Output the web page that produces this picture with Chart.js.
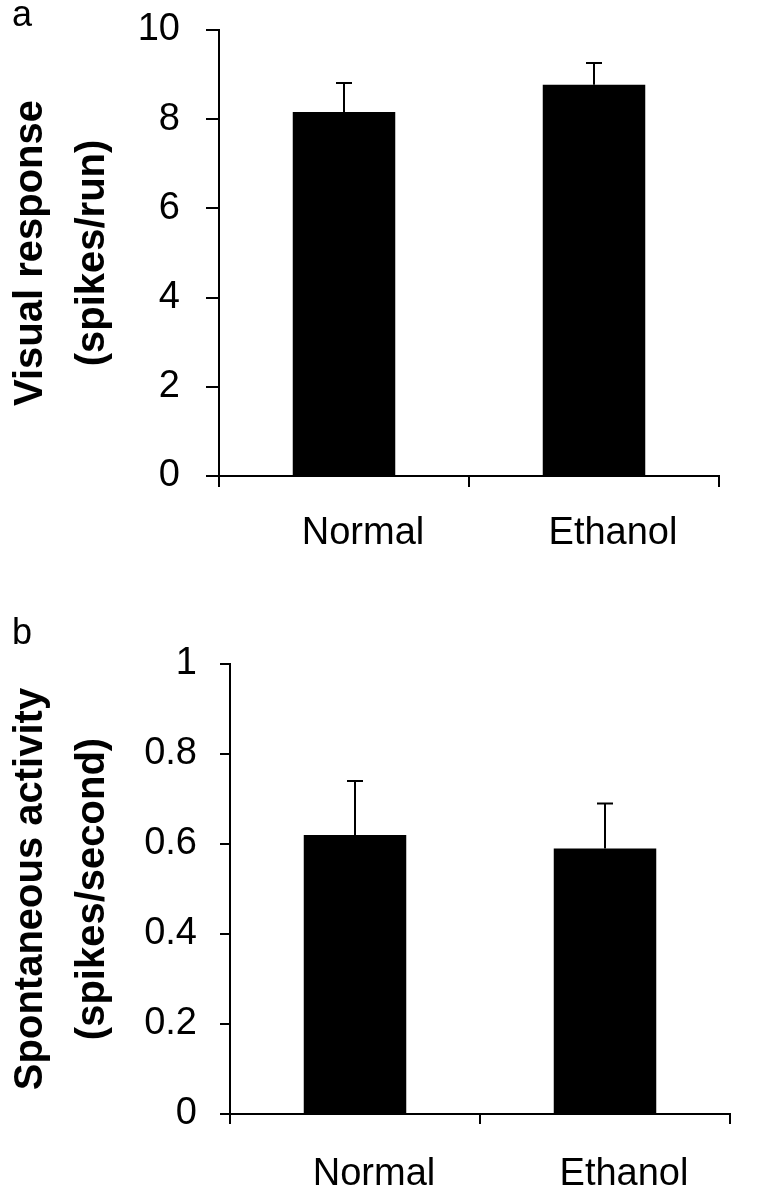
<!DOCTYPE html>
<html>
<head>
<meta charset="utf-8">
<script src="https://cdn.jsdelivr.net/npm/chart.js@4/dist/chart.umd.min.js"></script>
<style>
  body { margin: 0; background: #fff; }
  .panel { position: absolute; left: 0; }
  .letter { position: absolute; left: 12px; font: 36px/1 "Liberation Sans", Arial, sans-serif; color: #000; }
</style>
</head>
<body>
<div class="panel" style="top:0"><canvas id="chartA" width="775" height="590"></canvas></div>
<div class="panel" style="top:590px"><canvas id="chartB" width="775" height="609"></canvas></div>
<div class="letter" style="top:-4px">a</div>
<div class="letter" style="top:614px">b</div>
<script>
// data
const categories = ['Normal', 'Ethanol'];

const visualMean = [8.16, 8.77];
const visualErr = [0.65, 0.49];
const visualTicks = { min: 0, max: 10, step: 2 };

const spontMean = [0.62, 0.59];
const spontErr = [0.12, 0.10];
const spontTicks = { min: 0, max: 1, step: 0.2 };

const FONT = '"Liberation Sans", Arial, sans-serif';

// upward-only error bars with a cap
const errorBars = {
  id: 'errorBars',
  afterDatasetsDraw(chart, args, opts) {
    const ctx = chart.ctx;
    const y = chart.scales.y;
    const vals = chart.data.datasets[0].data;
    ctx.save();
    ctx.strokeStyle = '#000';
    ctx.lineWidth = 2;
    chart.getDatasetMeta(0).data.forEach((bar, i) => {
      const top = y.getPixelForValue(vals[i] + opts.errors[i]);
      ctx.beginPath();
      ctx.moveTo(bar.x, bar.y);
      ctx.lineTo(bar.x, top);
      ctx.moveTo(bar.x - 8, top);
      ctx.lineTo(bar.x + 8, top);
      ctx.stroke();
    });
    ctx.restore();
  }
};

function makeChart(id, o) {
  return new Chart(document.getElementById(id), {
    type: 'bar',
    data: {
      labels: categories,
      datasets: [{
        data: o.values,
        backgroundColor: '#000',
        borderWidth: 0,
        categoryPercentage: 1,
        barPercentage: 0.41
      }]
    },
    plugins: [errorBars],
    options: {
      responsive: false,
      animation: false,
      layout: { padding: { top: o.top, right: o.right, left: 0, bottom: 0 } },
      plugins: {
        legend: { display: false },
        tooltip: { enabled: false },
        errorBars: { errors: o.errors }
      },
      scales: {
        x: {
          grid: { offset: true, drawOnChartArea: false, color: '#000', lineWidth: 2, tickLength: o.xTick },
          border: { color: '#000', width: 2 },
          ticks: { color: '#000', font: { family: FONT, size: 38 }, padding: o.xPad, labelOffset: 19 },
          afterFit(s) { s.height = o.xHeight; }
        },
        y: {
          min: o.ticks.min,
          max: o.ticks.max,
          grid: { drawOnChartArea: false, color: '#000', lineWidth: 2, tickLength: o.yTick },
          border: { color: '#000', width: 2 },
          ticks: {
            stepSize: o.ticks.step,
            color: '#000',
            font: { family: FONT, size: 38 },
            padding: o.yPad,
            callback: v => String(+v.toFixed(2))
          },
          title: {
            display: true,
            text: o.title,
            color: '#000',
            font: { family: FONT, size: 40, weight: 'bold', lineHeight: 1.55 },
            padding: 0
          },
          afterFit(s) {
            s.width = o.yWidth;
            s.paddingTop = 0;
            s.paddingBottom = 0;
          }
        }
      }
    }
  });
}

makeChart('chartA', {
  values: visualMean, errors: visualErr, ticks: visualTicks,
  title: ['Visual response', '(spikes/run)'],
  top: 30, right: 56, yWidth: 219, xHeight: 114,
  yTick: 13, yPad: 26, xTick: 11, xPad: 24
});

makeChart('chartB', {
  values: spontMean, errors: spontErr, ticks: spontTicks,
  title: ['Spontaneous activity', '(spikes/second)'],
  top: 74, right: 45, yWidth: 230, xHeight: 85,
  yTick: 10, yPad: 23, xTick: 10, xPad: 28
});
</script>
</body>
</html>
